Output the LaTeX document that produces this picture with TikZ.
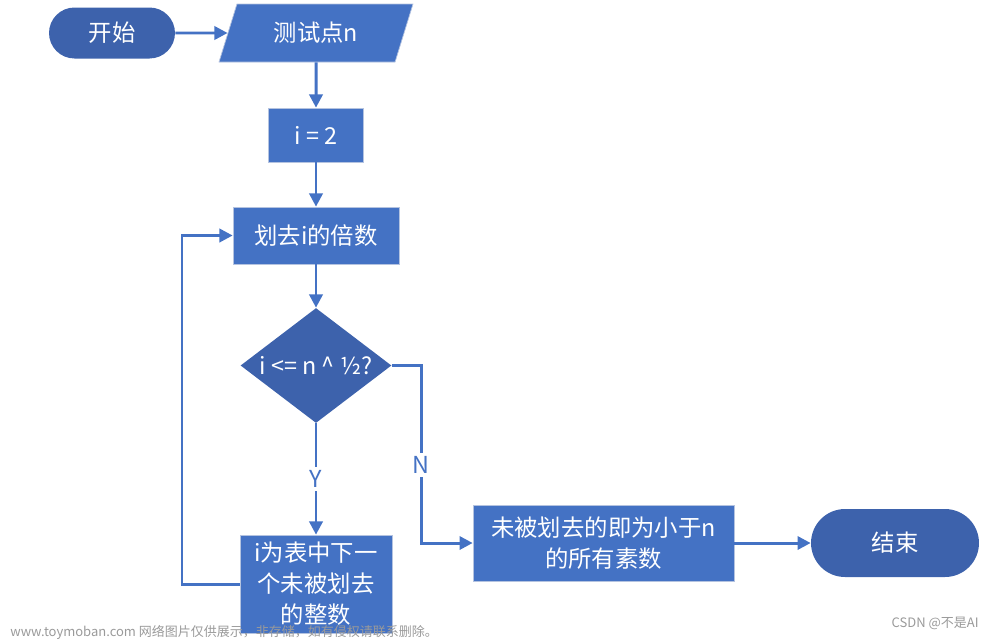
\documentclass[tikz,border=0pt]{standalone}
\usepackage{fontspec}
\setmainfont{Noto Sans CJK SC}
\usepackage{tikz}
\usetikzlibrary{arrows.meta}
\usetikzlibrary{positioning,shapes.geometric,shapes.misc}
\definecolor{boxblue}{HTML}{4472C4}
\definecolor{darkblue}{HTML}{3D62AC}
\definecolor{edgeblue}{HTML}{B4C3E0}
\definecolor{markgray}{HTML}{9A9A9A}

\begin{document}
\begin{tikzpicture}[
x=0.02cm, y=-0.02cm,
StartStop/.style={rounded rectangle,fill=darkblue,text=white,inner sep=0pt},
InOut/.style={trapezium,trapezium left angle=66,trapezium right angle=114,trapezium stretches=true,fill=boxblue,draw=edgeblue,line width=0.4pt,text=white,inner sep=0pt},
Process/.style={rectangle,fill=boxblue,draw=edgeblue,line width=0.4pt,text=white,inner sep=0pt,align=center},
Decision/.style={diamond,aspect=1.31,fill=darkblue,text=white,inner sep=0pt},
Flow/.style={draw=boxblue,line width=1.7pt,-{Triangle[length=7.5pt,width=7.5pt]}},
Mark/.style={fill=white,text=boxblue,inner sep=2pt},
WaterMark/.style={text=markgray,font=\fontsize{7.4}{9}\selectfont,inner sep=0pt},
every node/.style={font=\fontsize{13.3}{17.6}\selectfont}
]
\useasboundingbox (0,0) rectangle (1000,640);

% the steps, top to bottom
\node[StartStop,minimum width=2.52cm,minimum height=1.02cm] (start) at (112,33) {开始};
\node[InOut,minimum width=3.9cm,minimum height=1.16cm] (input) at (316,33) {测试点n};
\node[Process,minimum width=1.9cm,minimum height=1.08cm] (init) at (316,135) {i = 2};
\node[Process,minimum width=3.32cm,minimum height=1.14cm] (strike) at (316,235.5) {划去i的倍数};
\node[Decision,minimum width=3.02cm,minimum height=2.3cm] (cond) at (316,365.5) {i <= n \textasciicircum{} ½?};
\node[Process,minimum width=3.04cm,minimum height=1.96cm] (next) at (316,584) {i为表中下一\\个未被划去\\的整数};
\node[Process,minimum width=5.22cm,minimum height=1.52cm] (result) at (603.5,543) {未被划去的即为小于n\\的所有素数};
\node[StartStop,minimum width=3.36cm,minimum height=1.36cm] (stop) at (895,543) {结束};

% connectors
\draw[Flow] (start) -- (input);
\draw[Flow] (input) -- (init);
\draw[Flow] (init) -- (strike);
\draw[Flow] (strike) -- (cond);
\draw[Flow] (cond) -- node[Mark] (ylbl) {Y} (next);

\coordinate (nturn) at (421,365.5);
\draw[Flow] (cond.east) -- (nturn) |- node[Mark,pos=0.28] (nlbl) {N} (result.west);

\coordinate (back) at (182,584);
\draw[Flow] (next.west) -- (back) |- (strike.west);

\draw[Flow] (result) -- (stop);

% marks of the source page
\node[WaterMark,anchor=west] (wm) at (10,632) {www.toymoban.com 网络图片仅供展示，非存储，如有侵权请联系删除。};
\node[WaterMark,anchor=east] (csdn) at (979,623) {CSDN @不是AI};

\end{tikzpicture}
\end{document}
